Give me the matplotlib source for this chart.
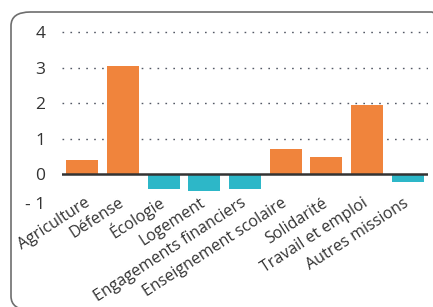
import matplotlib
matplotlib.use("Agg")
import matplotlib.pyplot as plt
from matplotlib.patches import FancyBboxPatch
from matplotlib.transforms import ScaledTranslation

categories = ["Agriculture", "Défense", "Écologie", "Logement",
              "Engagements financiers", "Enseignement scolaire",
              "Solidarité", "Travail et emploi", "Autres missions"]
values = [0.40, 3.05, -0.40, -0.47, -0.42, 0.71, 0.49, 1.95, -0.22]
yticks = [-1, 0, 1, 2, 3, 4]
ytick_labels = ["- 1", "0", "1", "2", "3", "4"]

orange = "#F0843C"
teal = "#2DB7C8"

plt.rcParams["font.family"] = ["Open Sans", "DejaVu Sans"]

fig = plt.figure(figsize=(4.33, 3.07), dpi=100)
ax = fig.add_axes([62 / 433, 1 - 210 / 307, 366 / 433, 185 / 307])

# cadre arrondi
frame = FancyBboxPatch((11 / 433, -3 / 307), 440 / 433, 298 / 307,
                       boxstyle="round,pad=0,rounding_size=0.045",
                       transform=fig.transFigure, fill=False,
                       edgecolor="#6e6e6e", linewidth=1.2, zorder=0)
fig.patches.append(frame)

colors = [orange if v >= 0 else teal for v in values]
ax.bar(range(len(values)), values, width=0.79, color=colors, zorder=2)

for y in [1, 2, 3, 4]:
    ax.axhline(y, color="#555a66", linestyle=(0, (1.2, 4.5)), linewidth=1, zorder=1)
ax.axhline(0, color="#333333", linewidth=1.8, zorder=3)

ax.set_xlim(-0.5, 8.5)
ax.set_ylim(-1, 4.2)
ax.set_yticks(yticks)
ax.set_yticklabels(ytick_labels, fontsize=12.5, color="#333333")
ax.set_xticks([])
ax.tick_params(length=0)
ax.tick_params(axis="y", pad=12)
for s in ax.spines.values():
    s.set_visible(False)
ax.patch.set_alpha(0)

# le "- 1" est un peu remonté dans l'original
lab_m1 = ax.get_yticklabels()[0]
lab_m1.set_transform(lab_m1.get_transform() + ScaledTranslation(0, 7 / 100, fig.dpi_scale_trans))

# libellés inclinés sous la ligne zéro
for i, lab in enumerate(categories):
    dx = 0.2 if i == 0 else 0.05
    ax.text(i + dx, -0.86, lab, rotation=33, rotation_mode="anchor",
            ha="right", va="baseline", fontsize=11.5, color="#333333",
            clip_on=False)

fig.savefig("out.png", dpi=100)
